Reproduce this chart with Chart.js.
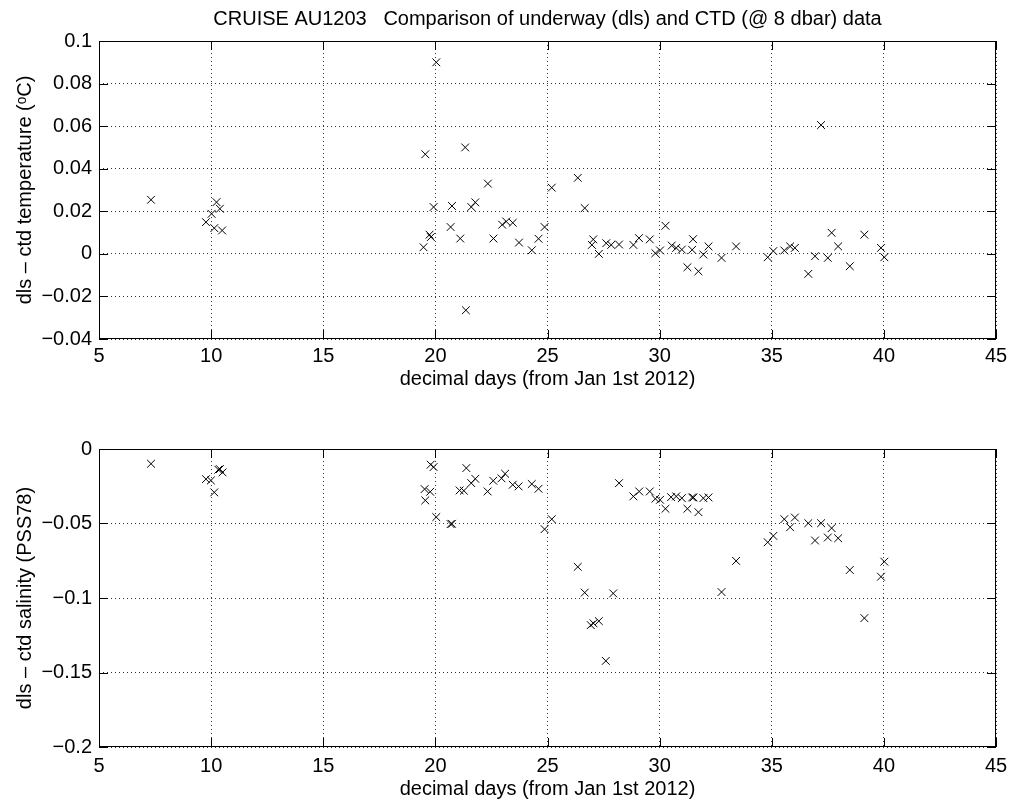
<!DOCTYPE html>
<html>
<head>
<meta charset="utf-8">
<script src="https://cdn.jsdelivr.net/npm/chart.js@4.4.1/dist/chart.umd.min.js"></script>
<style>
  html, body { margin: 0; padding: 0; background: #fff; }
  #wrap { width: 1009px; height: 802px; position: relative; }
  .box { position: absolute; left: 0; width: 1009px; }
</style>
</head>
<body>
<div id="wrap">
  <div class="box" style="top:0;height:392px"><canvas id="tempChart"></canvas></div>
  <div class="box" style="top:392px;height:410px"><canvas id="salChart"></canvas></div>
</div>
<script>
// decimal days (from Jan 1st 2012)
const tempDays = [7.32, 9.77, 10.02, 10.24, 10.39, 10.14, 10.49,
    19.55, 19.47, 19.74, 19.80, 19.92, 20.04, 20.68, 20.74, 21.11, 21.33, 21.36,
    21.60, 21.78, 22.34, 22.59, 22.98, 23.16, 23.45, 23.73, 24.30, 24.60, 24.87,
    25.19, 26.35, 26.66, 26.98, 27.04, 27.29, 27.62, 27.84, 28.19, 28.83, 29.08,
    29.56, 29.81, 30.02, 30.26, 30.54, 30.74, 30.99, 31.24, 31.45, 31.49, 31.73,
    31.95, 32.18, 32.76, 33.41, 34.82, 35.07, 35.56, 35.82, 36.03, 36.63, 36.93,
    37.20, 37.50, 37.67, 37.96, 38.48, 39.13, 39.87, 40.02]
// dls - ctd temperature (degC)
const tempDiff = [0.0254, 0.0149, 0.0188, 0.0243, 0.0212, 0.0121, 0.0110,
    0.0468, 0.0031, 0.0090, 0.0079, 0.0220, 0.0900, 0.0126, 0.0225, 0.0072, 0.0500, -0.0265,
    0.0220, 0.0242, 0.0330, 0.0072, 0.0137, 0.0152, 0.0146, 0.0053, 0.0017, 0.0071, 0.0126,
    0.0311, 0.0357, 0.0215, 0.0042, 0.0068, 0.0000, 0.0050, 0.0042, 0.0044, 0.0042, 0.0074,
    0.0068, 0.0003, 0.0016, 0.0132, 0.0039, 0.0028, 0.0020, -0.0063, 0.0019, 0.0069, -0.0082,
    -0.0003, 0.0035, -0.0019, 0.0035, -0.0016, 0.0013, 0.0016, 0.0035, 0.0028, -0.0094, -0.0011,
    0.0605, -0.0019, 0.0099, 0.0035, -0.0058, 0.0090, 0.0028, -0.0016]

const salDays = [7.32, 9.77, 9.99, 10.14, 10.32, 10.39, 10.51,
    19.52, 19.55, 19.77, 19.79, 19.92, 20.04, 20.68, 20.74, 21.08, 21.27, 21.38,
    21.60, 21.78, 22.33, 22.58, 22.95, 23.11, 23.45, 23.71, 24.30, 24.60, 24.87,
    25.19, 26.35, 26.66, 26.93, 27.05, 27.29, 27.60, 27.93, 28.19, 28.83, 29.09,
    29.56, 29.81, 30.02, 30.26, 30.51, 30.74, 30.99, 31.24, 31.45, 31.51, 31.73,
    31.95, 32.18, 32.76, 33.41, 34.82, 35.07, 35.56, 35.82, 36.03, 36.63, 36.93,
    37.20, 37.50, 37.67, 37.96, 38.48, 39.13, 39.87, 40.02]
// dls - ctd salinity (PSS78)
const salDiff = [-0.0099, -0.0202, -0.0211, -0.0291, -0.0139, -0.0135, -0.0157,
    -0.0269, -0.0345, -0.0287, -0.0105, -0.0121, -0.0457, -0.0504, -0.0502, -0.0278, -0.0280, -0.0128,
    -0.0229, -0.0200, -0.0285, -0.0213, -0.0197, -0.0166, -0.0240, -0.0251, -0.0235, -0.0267, -0.0538,
    -0.0471, -0.0791, -0.0964, -0.1182, -0.1170, -0.1155, -0.1422, -0.0969, -0.0229, -0.0318, -0.0285,
    -0.0285, -0.0334, -0.0341, -0.0401, -0.0323, -0.0318, -0.0330, -0.0401, -0.0325, -0.0325, -0.0424,
    -0.0330, -0.0325, -0.0960, -0.0751, -0.0626, -0.0583, -0.0471, -0.0525, -0.0460, -0.0498, -0.0614,
    -0.0498, -0.0594, -0.0531, -0.0599, -0.0812, -0.1135, -0.0857, -0.0756]

const xTicks = [5, 10, 15, 20, 25, 30, 35, 40, 45]

const font = { family: '"Liberation Sans", Arial, Helvetica, sans-serif', size: 20 }
Chart.defaults.color = '#000'
Chart.defaults.font = font

const toPoints = (xs, ys) => xs.map((x, i) => ({ x, y: ys[i] }))

// matlab style box + inward ticks
const boxPlugin = {
    id: 'box',
    afterDraw(chart) {
        const { ctx, chartArea: a, scales } = chart
        ctx.save()
        ctx.strokeStyle = '#000'
        ctx.lineWidth = 1
        ctx.setLineDash([])
        ctx.strokeRect(a.left + 0.5, a.top + 0.5, a.right - a.left - 1, a.bottom - a.top - 1)
        const len = 9
        ctx.beginPath()
        for (const t of scales.x.ticks) {
            const px = Math.round(scales.x.getPixelForValue(t.value)) + 0.5
            ctx.moveTo(px, a.bottom); ctx.lineTo(px, a.bottom - len)
            ctx.moveTo(px, a.top); ctx.lineTo(px, a.top + len)
        }
        for (const t of scales.y.ticks) {
            const py = Math.round(scales.y.getPixelForValue(t.value)) + 0.5
            ctx.moveTo(a.left, py); ctx.lineTo(a.left + len, py)
            ctx.moveTo(a.right, py); ctx.lineTo(a.right - len, py)
        }
        ctx.stroke()
        ctx.restore()
    }
}

const makeChart = (el, { data, yMin, yMax, yStep, yTitle, title, topHeight, xHeight, xPad }) => {
    return new Chart(el, {
        type: 'scatter',
        data: {
            datasets: [{
                data,
                xAxisID: 'x',
                pointStyle: 'crossRot',
                pointRadius: 5.5,
                pointBorderWidth: 1,
                borderColor: '#000',
                backgroundColor: '#000',
            }]
        },
        options: {
            responsive: true,
            maintainAspectRatio: false,
            animation: false,
            layout: { padding: { top: 0, right: 13, left: 0, bottom: 0 } },
            plugins: {
                legend: { display: false },
                tooltip: { enabled: false },
            },
            scales: {
                // top axis only carries the figure title, centred over the plot
                top: {
                    type: 'linear',
                    position: 'top',
                    min: 5,
                    max: 45,
                    afterFit: s => { s.height = topHeight; s.paddingLeft = 0; s.paddingRight = 0 },
                    grid: { display: false, drawTicks: false },
                    border: { display: false },
                    ticks: { display: false },
                    title: {
                        display: !!title,
                        text: title || '',
                        padding: { top: 7, bottom: 0 },
                    },
                },
                x: {
                    type: 'linear',
                    min: 5,
                    max: 45,
                    afterBuildTicks: s => { s.ticks = xTicks.map(value => ({ value })) },
                    afterFit: s => { s.height = xHeight; s.paddingLeft = 0; s.paddingRight = 0 },
                    grid: { color: '#333', lineWidth: 1, drawTicks: false },
                    border: { display: false, dash: [1, 3] },
                    ticks: { padding: xPad, maxRotation: 0 },
                    title: {
                        display: true,
                        text: 'decimal days (from Jan 1st 2012)',
                        padding: { top: 0, bottom: 1 },
                    },
                },
                y: {
                    type: 'linear',
                    min: yMin,
                    max: yMax,
                    afterFit: s => { s.width = 99 },
                    grid: { color: '#333', lineWidth: 1, drawTicks: false },
                    border: { display: false, dash: [1, 3] },
                    ticks: {
                        stepSize: yStep,
                        padding: 7,
                        callback: v => String(Number(v.toFixed(3))).replace('-', '\u2212')
                    },
                    title: {
                        display: true,
                        text: yTitle,
                        padding: { top: 13, bottom: 0 },
                    },
                },
            },
        },
        plugins: [boxPlugin],
    })
}

makeChart(document.getElementById('tempChart'), {
    data: toPoints(tempDays, tempDiff),
    yMin: -0.04, yMax: 0.1, yStep: 0.02,
    yTitle: 'dls \u2013 ctd temperature (\u1D52C)',
    title: 'CRUISE AU1203   Comparison of underway (dls) and CTD (@ 8 dbar) data',
    topHeight: 41,
    xHeight: 53,
    xPad: 5,
})

makeChart(document.getElementById('salChart'), {
    data: toPoints(salDays, salDiff),
    yMin: -0.2, yMax: 0, yStep: 0.05,
    yTitle: 'dls \u2013 ctd salinity (PSS78)',
    title: null,
    topHeight: 57,
    xHeight: 55,
    xPad: 7,
})
</script>
</body>
</html>
